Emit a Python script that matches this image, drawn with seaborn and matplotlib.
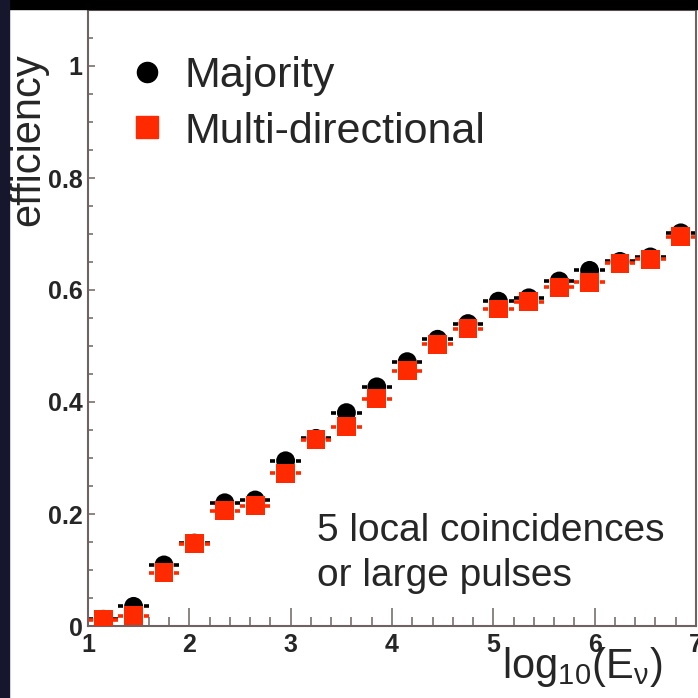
import numpy as np
import pandas as pd
import seaborn as sns
import matplotlib
matplotlib.use("Agg")
import matplotlib.pyplot as plt
from matplotlib.lines import Line2D
from matplotlib.patches import Rectangle
from matplotlib.ticker import MultipleLocator, FuncFormatter

# bin centres in log10(E_nu), bin half width 0.15
log_e = [1.15, 1.45, 1.75, 2.05, 2.35, 2.65, 2.95, 3.25, 3.55, 3.85,
         4.15, 4.45, 4.75, 5.05, 5.35, 5.65, 5.95, 6.25, 6.55, 6.85]
bin_half = 0.15

majority = [0.012, 0.035, 0.109, 0.148, 0.220, 0.225, 0.295, 0.335, 0.381, 0.427,
            0.472, 0.512, 0.540, 0.580, 0.586, 0.616, 0.635, 0.651, 0.659, 0.702]
multi_dir = [0.011, 0.018, 0.095, 0.147, 0.206, 0.215, 0.273, 0.333, 0.356, 0.406,
             0.456, 0.503, 0.531, 0.566, 0.579, 0.605, 0.614, 0.648, 0.655, 0.695]

series_names = ["Majority", "Multi-directional"]
note = "5 local coincidences\nor large pulses"

RED = "#ff2a00"
SPINE = "#6e6262"

sns.set_style("white")
plt.rcParams['font.family'] = ['Liberation Sans', 'DejaVu Sans']
plt.rcParams['mathtext.fontset'] = 'custom'
plt.rcParams['mathtext.rm'] = 'Liberation Sans'
plt.rcParams['mathtext.it'] = 'Liberation Sans'

data = pd.DataFrame({
    "x": log_e * 2,
    "eff": majority + multi_dir,
    "trigger": [series_names[0]] * len(log_e) + [series_names[1]] * len(log_e),
})

fig = plt.figure(figsize=(6.98, 6.98), dpi=100)
ax = fig.add_axes([88 / 698, 72 / 698, 608 / 698, 616 / 698])

# ROOT-like horizontal error bars with a gap around the marker
x = np.array(log_e)
for vals, col in [(majority, "black"), (multi_dir, RED)]:
    ax.hlines(vals, x - bin_half, x - 0.1, color=col, lw=2.6, zorder=2)
    ax.hlines(vals, x + 0.1, x + bin_half, color=col, lw=2.6, zorder=2)

sns.scatterplot(data=data[data.trigger == series_names[0]], x="x", y="eff",
                marker="o", s=185, color="black", edgecolor="none", linewidth=0,
                ax=ax, zorder=3)
sns.scatterplot(data=data[data.trigger == series_names[1]], x="x", y="eff",
                marker="s", s=185, color=RED, edgecolor="none", linewidth=0,
                ax=ax, zorder=4)

ax.set_xlim(1, 7)
ax.set_ylim(0, 1.1)

ax.xaxis.set_major_locator(MultipleLocator(1))
ax.xaxis.set_minor_locator(MultipleLocator(0.2))
ax.yaxis.set_major_locator(MultipleLocator(0.2))
ax.yaxis.set_minor_locator(MultipleLocator(0.05))
fmt = FuncFormatter(lambda v, p: f"{v:g}")
ax.xaxis.set_major_formatter(fmt)
ax.yaxis.set_major_formatter(fmt)

ax.tick_params(axis="x", which="major", direction="in", length=13, width=1.1,
               color=SPINE, pad=5, labelsize=18)
ax.tick_params(axis="x", which="minor", direction="in", length=6.5, width=1.1, color=SPINE)
ax.tick_params(axis="y", which="major", direction="in", length=5, width=1.1,
               color=SPINE, pad=4, labelsize=18)
ax.tick_params(axis="y", which="minor", direction="in", length=3.5, width=1.1, color=SPINE)
ax.tick_params(bottom=True, left=True, which="both")
for lab in ax.get_xticklabels() + ax.get_yticklabels():
    lab.set_fontweight("bold")

for sp in ax.spines.values():
    sp.set_color(SPINE)
    sp.set_linewidth(1.5)

ax.set_xlabel(r"$\mathregular{log_{10}(E_{\nu})}$", fontsize=30, ha="right", va="center")
ax.xaxis.set_label_coords((663 - 88) / 608, (626 - 667) / 616)
ax.set_ylabel("efficiency", fontsize=30, va="center", ha="center")
ax.yaxis.set_label_coords((28 - 88) / 608, (626 - 140) / 616)

handles = [
    Line2D([], [], marker="o", color="black", linestyle="none", markersize=14.5),
    Line2D([], [], marker="s", color=RED, linestyle="none", markersize=15.5),
]
ax.legend(handles, series_names, loc="upper left", bbox_to_anchor=(0.063, 0.926),
          frameon=False, fontsize=31, handlelength=0.95, handletextpad=0.4,
          borderpad=0, borderaxespad=0, labelspacing=0.37)

ax.text((317 - 88) / 608, (626 - 513) / 616, note, transform=ax.transAxes,
        fontsize=28, va="top", ha="left", linespacing=1.33)

# outer frame of the slide image
fig.patches.append(Rectangle((0, 1 - 9 / 698), 1, 9 / 698, transform=fig.transFigure,
                             color="black", zorder=0))
fig.patches.append(Rectangle((0, 0), 9 / 698, 1, transform=fig.transFigure,
                             color="#16162c", zorder=0))

fig.savefig("out.png", dpi=100)
